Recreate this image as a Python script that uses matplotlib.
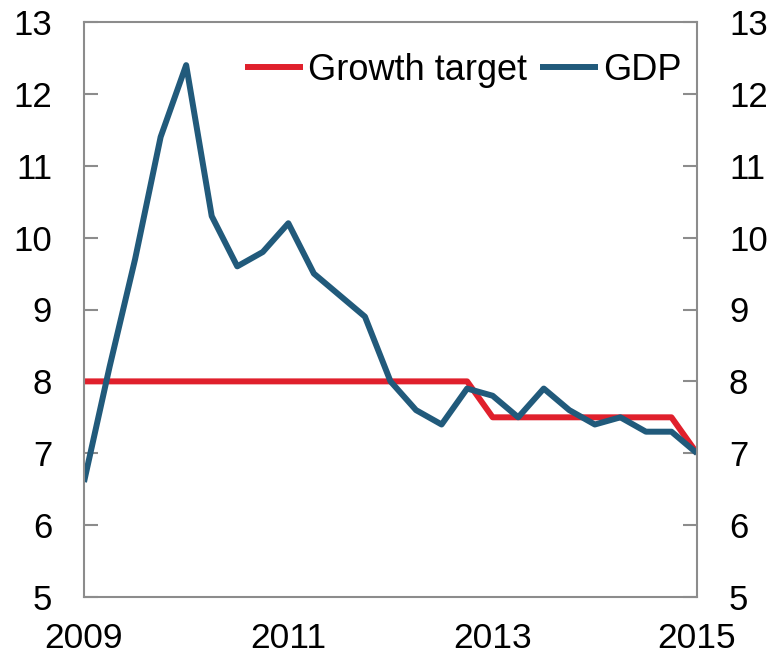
import matplotlib
matplotlib.use("Agg")
import matplotlib.pyplot as plt
import numpy as np

plt.rcParams['font.family'] = ['Liberation Sans', 'DejaVu Sans']

quarters = np.arange(2009.0, 2015.01, 0.25)
gdp = [6.6, 8.2, 9.7, 11.4, 12.4, 10.3, 9.6, 9.8, 10.2, 9.5, 9.2, 8.9,
       8.0, 7.6, 7.4, 7.9, 7.8, 7.5, 7.9, 7.6, 7.4, 7.5, 7.3, 7.3, 7.0]
target = [8.0]*16 + [7.5]*8 + [7.0]
xticks = [2009, 2011, 2013, 2015]
yticks = [5, 6, 7, 8, 9, 10, 11, 12, 13]

red = '#E0202C'
blue = '#215A7B'
gray = '#8C8C8C'

fig = plt.figure(figsize=(7.73, 6.59), dpi=100)
ax = fig.add_axes([84/773, 1-597/659, (697-84)/773, (597-22)/659])

ax.plot(quarters, target, color=red, lw=4.3, label='Growth target', solid_capstyle='butt')
ax.plot(quarters, gdp, color=blue, lw=4.3, label='GDP', solid_capstyle='butt')

ax.set_xlim(2009, 2015)
ax.set_ylim(5, 13)
ax.set_xticks(xticks)
ax.set_xticklabels([str(x) for x in xticks])
ax.set_yticks(yticks)
ax.tick_params(axis='x', length=0, pad=18, labelsize=25.5)
ax.tick_params(axis='y', direction='in', length=10, width=1.5, color=gray,
               labelsize=25, left=True, right=True, labelleft=True, labelright=True, pad=23)
for s in ax.spines.values():
    s.set_color(gray)
    s.set_linewidth(1.5)

leg = ax.legend(loc='upper right', ncol=2, frameon=False, fontsize=26,
                handlelength=1.6, handletextpad=0.15, columnspacing=0.35,
                bbox_to_anchor=(1.016, 0.99), borderaxespad=0.3)

fig.savefig('out.png', dpi=100)
